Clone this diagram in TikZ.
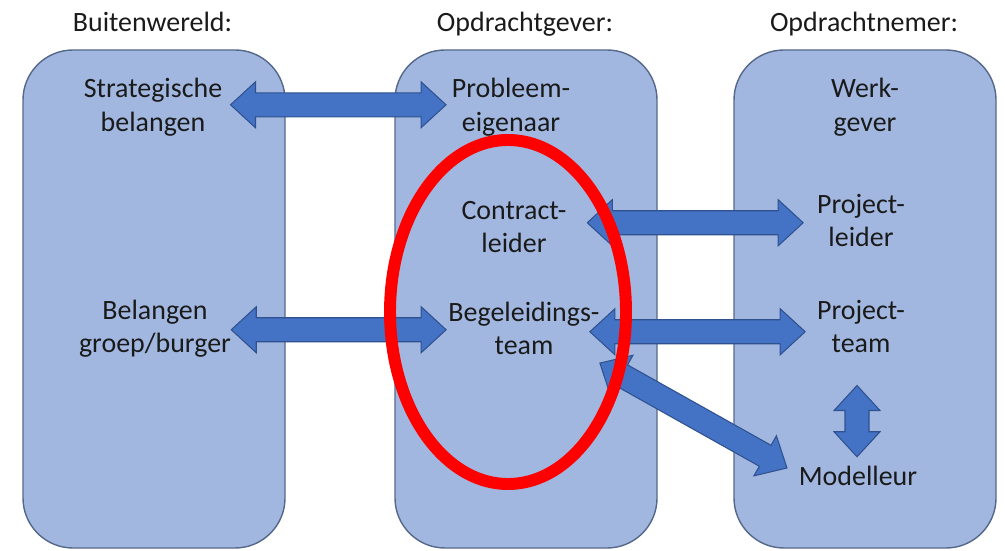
\documentclass[tikz,border=0pt]{standalone}
\usepackage{fontspec}
\setmainfont{Carlito}
\usetikzlibrary{calc}
\definecolor{panel-blue}{HTML}{A1B7E0}
\definecolor{panel-line}{HTML}{56688A}
\definecolor{arrow-blue}{HTML}{4472C4}
\definecolor{arrow-line}{HTML}{2F528F}
\definecolor{ring-red}{HTML}{FF0000}
\definecolor{ink}{HTML}{1A1A1A}
\tikzset{
  column/.style={draw=panel-line, fill=panel-blue, line width=0.8pt,
    rounded corners=1cm, minimum width=5.24cm, minimum height=9.96cm, inner sep=0pt},
  heading/.style={anchor=base, text=ink, inner sep=0pt,
    font=\fontsize{15.9pt}{19pt}\selectfont},
  role/.style={align=center, text=ink, inner sep=0pt,
    font=\fontsize{15.9pt}{19pt}\selectfont},
  fat-arrow/.style={draw=arrow-line, fill=arrow-blue, line width=0.6pt, line join=miter},
  focus-ring/.style={draw=ring-red, line width=6.8pt},
}
\newcommand{\fatarrow}[2]{%
  \coordinate (fa-a) at ($(#1)!0.5cm!(#2)$);
  \coordinate (fa-b) at ($(#2)!0.5cm!(#1)$);
  \draw[fat-arrow] (#1) -- ($(fa-a)!0.46cm!90:(#2)$) -- ($(fa-a)!0.24cm!90:(#2)$)
    -- ($(fa-b)!0.24cm!-90:(#1)$) -- ($(fa-b)!0.46cm!-90:(#1)$) -- (#2)
    -- ($(fa-b)!0.46cm!90:(#1)$) -- ($(fa-b)!0.24cm!90:(#1)$)
    -- ($(fa-a)!0.24cm!-90:(#2)$) -- ($(fa-a)!0.46cm!-90:(#2)$) -- cycle;
}

\begin{document}
\begin{tikzpicture}
\useasboundingbox (0, 0) rectangle (20.1, 11);
\node[column] at (3.08, 5.02) (buitenwereld) {};
\node[column] at (10.52, 5.02) (opdrachtgever) {};
\node[column] at (17.3, 5.02) (opdrachtnemer) {};
\node[heading] at (3.05, 10.37) (buitenwereld-kop) {Buitenwereld:};
\node[heading] at (10.5, 10.37) (opdrachtgever-kop) {Opdrachtgever:};
\node[heading] at (17.28, 10.37) (opdrachtnemer-kop) {Opdrachtnemer:};
\node[role] at (3.06, 8.854) (strategisch) {Strategische\\belangen};
\node[role] at (10.22, 8.854) (probleem) {Probleem-\\eigenaar};
\node[role] at (17.3, 8.854) (werkgever) {Werk-\\gever};
\node[role] at (10.28, 6.465) (contract) {Contract-\\leider};
\node[role] at (17.22, 6.595) (projectleider) {Project-\\leider};
\node[role] at (3.1, 4.425) (burger) {Belangen\\groep/burger};
\node[role] at (10.48, 4.435) (begeleiding) {Begeleidings-\\team};
\node[role] at (17.22, 4.465) (projectteam) {Project-\\team};
\node[heading] at (17.16, 1.3) (modelleur) {Modelleur};
\coordinate (strategisch-r) at ($(strategisch.east)+(0.16, 0.05)$);
\coordinate (probleem-l) at ($(probleem.west)+(-0.11, 0.05)$);
\coordinate (contract-r) at ($(contract.east)+(0.41, 0.08)$);
\coordinate (projectleider-l) at ($(projectleider.west)+(-0.27, -0.05)$);
\coordinate (burger-r) at ($(burger.east)+(0, -0.02)$);
\coordinate (begeleiding-l) at ($(begeleiding.west)+(-0.04, -0.03)$);
\coordinate (begeleiding-r) at ($(begeleiding.east)+(-0.2, -0.07)$);
\coordinate (projectteam-l) at ($(projectteam.west)+(-0.23, -0.1)$);
\coordinate (begeleiding-o) at ($(begeleiding.south east)+(0, -0.16)$);
\coordinate (modelleur-w) at ($(modelleur.base west)+(-0.23, 0.34)$);
\coordinate (projectteam-o) at ($(projectteam.south)+(-0.08, -0.64)$);
\coordinate (modelleur-b) at ($(modelleur.north)+(-0.02, 0.17)$);
\fatarrow{strategisch-r}{probleem-l}
\fatarrow{contract-r}{projectleider-l}
\fatarrow{burger-r}{begeleiding-l}
\fatarrow{begeleiding-r}{projectteam-l}
\fatarrow{begeleiding-o}{modelleur-w}
\fatarrow{projectteam-o}{modelleur-b}
\draw[focus-ring] (10.16, 4.76) ellipse [x radius=2.36cm, y radius=3.44cm];
\end{tikzpicture}
\end{document}
